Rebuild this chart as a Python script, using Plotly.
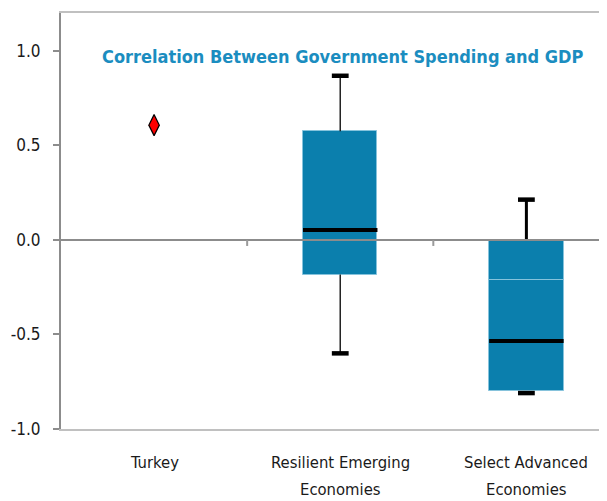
import plotly.graph_objects as go

# categories / values
categories = ["Turkey", "Resilient Emerging<br>Economies", "Select Advanced<br>Economies"]
turkey_value = [0.607]

box_pos = [1, 2]
whisker_low = [-0.60, -0.81]
q1 = [-0.183, -0.80]
box_split = [0.0, -0.21]
median = [0.053, -0.535]
q3 = [0.575, 0.0]
whisker_high = [0.868, 0.213]

y_ticks = [-1.0, -0.5, 0.0, 0.5, 1.0]
y_ticktext = ["-1.0", "-0.5", "0.0", "0.5", "1.0"]

title_text = "Correlation Between Government Spending and GDP"

BOX_COLOR = "#0B7FAD"
BOX_EDGE = "#86C3DC"
TITLE_COLOR = "#1B8DC0"
FONT = "Liberation Sans Narrow, DejaVu Sans Condensed, Arial Narrow, sans-serif"
box_w = 0.4

fig = go.Figure()

# box = two stacked segments (q1 -> split, split -> q3)
fig.add_trace(go.Bar(
    x=box_pos, y=[s - a for s, a in zip(box_split, q1)], base=q1,
    width=box_w, marker=dict(color=BOX_COLOR, line=dict(color=BOX_EDGE, width=1)),
    hoverinfo="skip", showlegend=False))
fig.add_trace(go.Bar(
    x=box_pos, y=[b - s for b, s in zip(q3, box_split)], base=box_split,
    width=box_w, marker=dict(color=BOX_COLOR, line=dict(color=BOX_EDGE, width=1)),
    hoverinfo="skip", showlegend=False))

# whiskers
wx, wy = [], []
for p, lo, a, b, hi in zip(box_pos, whisker_low, q1, q3, whisker_high):
    wx += [p, p, None, p, p, None]
    wy += [b, hi, None, a, lo, None]
fig.add_trace(go.Scatter(x=wx[:6], y=wy[:6], mode="lines",
                         line=dict(color="#222222", width=1.5), showlegend=False))
fig.add_trace(go.Scatter(x=wx[6:], y=wy[6:], mode="lines",
                         line=dict(color="black", width=3), showlegend=False))

# whisker caps
fig.add_trace(go.Scatter(
    x=box_pos + box_pos, y=whisker_high + whisker_low, mode="markers",
    marker=dict(symbol="line-ew", size=12, line=dict(color="black", width=4.5)),
    showlegend=False))

# medians
mx, my = [], []
for p, m in zip(box_pos, median):
    mx += [p - box_w / 2, p + box_w / 2, None]
    my += [m, m, None]
fig.add_trace(go.Scatter(x=mx, y=my, mode="lines",
                         line=dict(color="black", width=4), showlegend=False))

# Turkey point
fig.add_trace(go.Scatter(
    x=[0], y=turkey_value, mode="markers",
    marker=dict(symbol="diamond-tall", size=15, color="#FF0000",
                line=dict(color="black", width=1.2)),
    showlegend=False))

# zero line drawn over the boxes, plus category dividers on it
shapes = [dict(type="line", xref="paper", yref="y", x0=0, x1=1, y0=0, y1=0,
               layer="above", line=dict(color="#8c8c8c", width=2))]
for b in [i + 0.5 for i in range(len(categories) - 1)]:
    shapes.append(dict(type="line", xref="x", yref="y", x0=b, x1=b, y0=0, y1=-0.032,
                       line=dict(color="#9a9a9a", width=2)))

# x labels, one annotation per line
annotations = []
for i, cat in enumerate(categories):
    for j, part in enumerate(cat.split("<br>")):
        annotations.append(dict(x=i, xref="x", y=0, yref="paper", yanchor="middle",
                                yshift=-33 - 27 * j, text=part, showarrow=False,
                                font=dict(family=FONT, size=16.5, color="#1a1a1a")))
annotations.append(dict(x=0.516, xref="paper", y=0.926, yref="paper", text="<b>" + title_text + "</b>",
                        showarrow=False, font=dict(family=FONT, size=18, color=TITLE_COLOR)))

# page body has an 8px margin, so the plot box is shifted up/left by that
fig.update_layout(
    width=607, height=501,
    margin=dict(l=50, r=8, t=3, b=80),
    paper_bgcolor="white", plot_bgcolor="white",
    barmode="overlay", bargap=0,
    shapes=shapes, annotations=annotations,
    xaxis=dict(range=[-0.5, 2.433], showticklabels=False, ticks="",
               showgrid=False, zeroline=False,
               showline=True, linecolor="#c0c0c0", linewidth=1.5, mirror=True),
    yaxis=dict(range=[-1.0, 1.2], tickvals=y_ticks, ticktext=y_ticktext,
               ticks="outside", ticklen=6, tickcolor="#8c8c8c", tickwidth=1.5,
               ticklabelstandoff=9,
               tickfont=dict(family=FONT, size=17, color="#1a1a1a"),
               showgrid=False, zeroline=False,
               showline=True, linecolor="#8c8c8c", linewidth=2),
)

fig.write_html("out.html")
